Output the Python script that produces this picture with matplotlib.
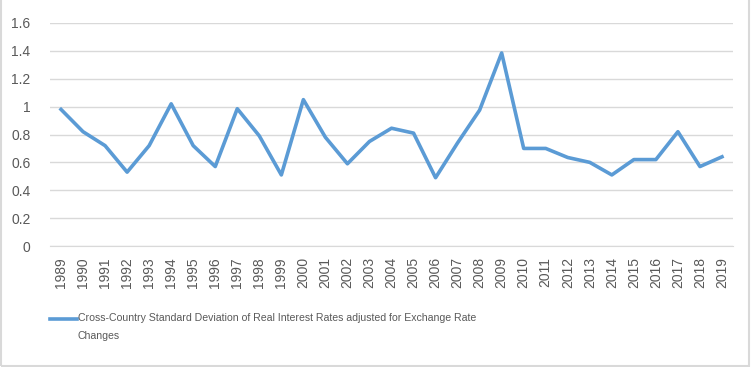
import matplotlib
matplotlib.use("Agg")
import matplotlib.pyplot as plt
from matplotlib.lines import Line2D
from matplotlib.patches import Rectangle

years = [str(y) for y in range(1989, 2020)]
std_dev = [0.98, 0.82, 0.72, 0.53, 0.72, 1.02, 0.72, 0.57, 0.985, 0.79,
           0.51, 1.05, 0.78, 0.59, 0.75, 0.845, 0.81, 0.49, 0.74, 0.975,
           1.385, 0.70, 0.70, 0.635, 0.60, 0.51, 0.62, 0.62, 0.82, 0.57,
           0.64]
series_label = ("Cross-Country Standard Deviation of Real Interest Rates adjusted for Exchange Rate\n"
                "Changes")

plt.rcParams['font.family'] = ['Liberation Sans', 'DejaVu Sans']
text_color = '#595959'
line_color = '#5B9BD5'

fig = plt.figure(figsize=(7.54, 3.67), dpi=100)
ax = fig.add_axes([50 / 754, 121 / 367, 683 / 754, 223 / 367])

x = list(range(len(years)))
ax.plot(x, std_dev, color=line_color, linewidth=2.6, zorder=3)

ax.set_xlim(-0.5, len(years) - 0.5)
ax.set_ylim(0, 1.6)
ax.set_yticks([0, 0.2, 0.4, 0.6, 0.8, 1.0, 1.2, 1.4, 1.6])
ax.set_yticklabels(['0', '0.2', '0.4', '0.6', '0.8', '1', '1.2', '1.4', '1.6'])
ax.set_xticks(x)
ax.set_xticklabels(years, rotation=90)
ax.tick_params(axis='both', length=0, colors=text_color, labelsize=10)
ax.tick_params(axis='y', pad=14)
ax.tick_params(axis='x', pad=8)
ax.grid(axis='y', color='#D9D9D9', linewidth=1)
ax.set_axisbelow(True)
for side in ['top', 'right', 'left']:
    ax.spines[side].set_visible(False)
ax.spines['bottom'].set_color('#D9D9D9')

# legend drawn by hand so the key sits on the first text line
fig.add_artist(Line2D([50 / 754, 77 / 754], [1 - 319 / 367] * 2,
                      color=line_color, linewidth=2.6))
fig.text(78 / 754, 1 - 313 / 367, series_label, color=text_color, fontsize=7.6,
         va='top', ha='left', linespacing=1.95)

# light frame round the chart area
fig.add_artist(Rectangle((0.001, 0.004), 0.993, 1.2, transform=fig.transFigure,
                         fill=False, edgecolor='#D9D9D9', linewidth=1.5))

fig.savefig('out.png', dpi=100)
